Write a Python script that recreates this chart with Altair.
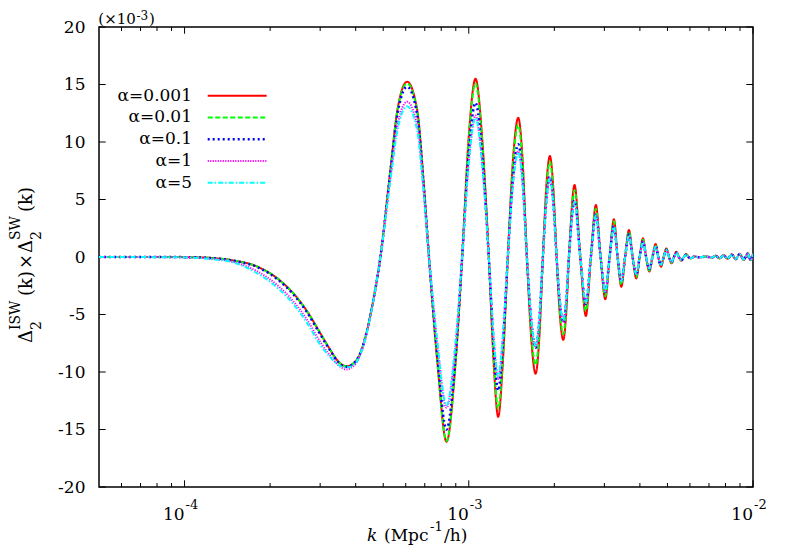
import altair as alt
import pandas as pd

# ---------------- data ----------------
k = [
    5.0e-5, 6.44e-5, 8.21e-5, 1.047e-4, 1.232e-4, 1.484e-4, 1.803e-4, 2.121e-4,
    2.414e-4, 2.704e-4, 3.005e-4, 3.258e-4, 3.477e-4, 3.709e-4, 3.992e-4, 4.258e-4,
    4.544e-4,
    4.888e-4, 5.301e-4, 5.610e-4, 6.068e-4, 6.582e-4, 6.927e-4, 7.243e-4,
    7.760e-4, 8.347e-4, 8.979e-4, 9.480e-4,
    1.000e-3, 1.056e-3, 1.117e-3, 1.176e-3,
    1.222e-3, 1.269e-3, 1.319e-3, 1.372e-3,
    1.431e-3, 1.493e-3, 1.546e-3, 1.601e-3,
    1.659e-3, 1.718e-3, 1.770e-3, 1.823e-3,
    1.875e-3, 1.929e-3, 1.981e-3, 2.037e-3,
    2.092e-3, 2.150e-3, 2.199e-3, 2.251e-3,
    2.356e-3, 2.468e-3, 2.582e-3, 2.689e-3, 2.800e-3, 2.909e-3, 3.022e-3, 3.129e-3,
    3.240e-3, 3.339e-3, 3.441e-3, 3.548e-3, 3.660e-3, 3.771e-3, 3.886e-3, 3.992e-3,
    4.100e-3, 4.207e-3, 4.318e-3, 4.428e-3, 4.545e-3, 4.641e-3, 4.745e-3, 4.850e-3,
    4.957e-3, 5.062e-3, 5.174e-3, 5.271e-3, 5.375e-3, 5.485e-3, 5.597e-3, 5.711e-3,
    5.828e-3, 5.928e-3, 6.035e-3,
    6.233e-3, 6.491e-3, 6.815e-3, 7.154e-3, 7.390e-3, 7.632e-3, 7.884e-3, 8.144e-3,
    8.414e-3, 8.691e-3, 8.978e-3, 9.275e-3, 9.579e-3, 9.815e-3, 1.0e-2,
]

alpha_0001 = [
    0, 0, 0, -0.02, -0.08, -0.3, -0.84, -1.86, -3.16, -4.75, -6.64, -8.09, -9.1, -9.5, -9.1, -7.6, -4.6,
    0, 7.6, 12.8, 15.24, 12.8, 6.7, 0, -9.25, -16.06, -9.25, 0, 10.5, 15.5, 10.0, 0,
    -9.0, -13.9, -9.0, 0, 8.5, 12.1, 8.5, 0, -7.1, -10.15, -7.1, 0, 6.2, 8.78, 6.2, 0,
    -5.1, -7.2, -5.1, 0,
    6.26, 0, -5.13, 0, 4.52, 0, -3.68, 0, 3.28, 0, -2.58, 0, 2.35, 0, -1.86, 0,
    1.62, 0, -1.27, 0, 1.13, 0, -0.84, 0, 0.75, 0, -0.55, 0, 0.46, 0, -0.32, 0, 0.26, 0, -0.12,
    0.05, -0.03, 0.04, -0.05, 0.12, -0.12, 0.18, -0.16, 0.24, -0.2, 0.28, -0.25, 0.32, -0.28, 0.3,
]
alpha_001 = [
    0, 0, 0, -0.02, -0.08, -0.3, -0.84, -1.86, -3.16, -4.75, -6.64, -8.09, -9.1, -9.5, -9.1, -7.6, -4.6,
    0, 7.55, 12.7, 15.1, 12.7, 6.6, 0, -9.2, -16.0, -9.2, 0, 10.2, 15.1, 9.7, 0,
    -8.5, -13.2, -8.5, 0, 8.1, 11.5, 8.1, 0, -6.6, -9.4, -6.6, 0, 5.8, 8.3, 5.8, 0,
    -4.7, -6.7, -4.7, 0,
    5.8, 0, -4.7, 0, 4.2, 0, -3.4, 0, 3.1, 0, -2.4, 0, 2.2, 0, -1.75, 0,
    1.5, 0, -1.2, 0, 1.05, 0, -0.8, 0, 0.7, 0, -0.52, 0, 0.43, 0, -0.3, 0, 0.25, 0, -0.12,
    0.05, -0.03, 0.04, -0.05, 0.11, -0.11, 0.17, -0.15, 0.22, -0.19, 0.26, -0.24, 0.3, -0.27, 0.28,
]
alpha_01 = [
    0, 0, 0, -0.02, -0.09, -0.32, -0.88, -1.93, -3.25, -4.85, -6.75, -8.15, -9.15, -9.55, -9.1, -7.6, -4.6,
    0, 7.4, 12.4, 14.8, 12.4, 6.5, 0, -8.7, -15.0, -8.7, 0, 9.1, 13.4, 8.6, 0,
    -7.5, -11.6, -7.5, 0, 6.9, 9.8, 6.9, 0, -5.5, -7.9, -5.5, 0, 4.9, 7.0, 4.9, 0,
    -4.0, -5.7, -4.0, 0,
    4.9, 0, -4.1, 0, 3.7, 0, -3.05, 0, 2.7, 0, -2.15, 0, 1.95, 0, -1.55, 0,
    1.35, 0, -1.05, 0, 0.95, 0, -0.7, 0, 0.63, 0, -0.46, 0, 0.38, 0, -0.27, 0, 0.22, 0, -0.1,
    0.04, -0.03, 0.04, -0.05, 0.1, -0.1, 0.15, -0.14, 0.2, -0.18, 0.24, -0.22, 0.28, -0.25, 0.26,
]
alpha_1 = [
    0, 0, -0.01, -0.04, -0.15, -0.43, -1.25, -2.45, -3.85, -5.5, -7.4, -8.6, -9.4, -9.78, -9.3, -7.7, -4.65,
    0, 6.9, 11.4, 13.5, 11.4, 5.9, 0, -7.6, -13.1, -7.6, 0, 8.3, 12.3, 7.9, 0,
    -6.9, -10.6, -6.9, 0, 6.5, 9.2, 6.5, 0, -5.5, -7.8, -5.5, 0, 4.8, 6.9, 4.8, 0,
    -3.9, -5.6, -3.9, 0,
    4.8, 0, -4.0, 0, 3.65, 0, -3.0, 0, 2.65, 0, -2.1, 0, 1.9, 0, -1.5, 0,
    1.3, 0, -1.0, 0, 0.9, 0, -0.68, 0, 0.6, 0, -0.45, 0, 0.37, 0, -0.26, 0, 0.21, 0, -0.1,
    0.04, -0.03, 0.04, -0.05, 0.1, -0.1, 0.15, -0.14, 0.2, -0.18, 0.24, -0.22, 0.28, -0.25, 0.26,
]
alpha_5 = [
    0, 0, -0.02, -0.05, -0.18, -0.47, -1.42, -2.67, -4.09, -5.77, -7.65, -8.72, -9.39, -9.62, -9.25, -7.7, -4.7,
    0, 6.7, 11.0, 13.1, 11.0, 5.8, 0, -7.5, -12.9, -7.5, 0, 8.2, 12.1, 7.8, 0,
    -6.7, -10.4, -6.7, 0, 6.4, 9.1, 6.4, 0, -5.4, -7.7, -5.4, 0, 4.8, 6.8, 4.8, 0,
    -3.9, -5.5, -3.9, 0,
    4.8, 0, -4.0, 0, 3.6, 0, -3.0, 0, 2.6, 0, -2.1, 0, 1.9, 0, -1.5, 0,
    1.3, 0, -1.0, 0, 0.9, 0, -0.68, 0, 0.6, 0, -0.45, 0, 0.37, 0, -0.26, 0, 0.21, 0, -0.1,
    0.04, -0.03, 0.04, -0.05, 0.1, -0.1, 0.15, -0.14, 0.2, -0.18, 0.24, -0.22, 0.28, -0.25, 0.26,
]

series_labels = ["α=0.001", "α=0.01", "α=0.1", "α=1", "α=5"]
series_values = [alpha_0001, alpha_001, alpha_01, alpha_1, alpha_5]

y_ticks = [-20, -15, -10, -5, 0, 5, 10, 15, 20]
x_major = [1e-4, 1e-3, 1e-2]
x_major_exp = ["-4", "-3", "-2"]
x_minor = [6e-5, 7e-5, 8e-5, 9e-5,
           2e-4, 3e-4, 4e-4, 5e-4, 6e-4, 7e-4, 8e-4, 9e-4,
           2e-3, 3e-3, 4e-3, 5e-3, 6e-3, 7e-3, 8e-3, 9e-3]

# ---------------- styles ----------------
FONT = "DejaVu Serif"
FS, FSS = 17, 13          # main text size, sub/superscript size
W, H = 654, 460
colors = ["#ff0000", "#00ff00", "#0000ff", "#ff00ff", "#00ffff"]
dashes = [[1, 0], [5, 2.5], [2, 3], [1.2, 1.3], [5, 2, 1.5, 2]]
widths = [2, 2, 2.5, 2, 2]

xscale = alt.Scale(type="log", domain=[5e-5, 1e-2], nice=False)
yscale = alt.Scale(domain=[-20, 20], nice=False, zero=False)
yaxis = alt.Axis(values=y_ticks, labelExpr="datum.value + ''", ticks=False, domain=False,
                 grid=False, labelFont=FONT, labelFontSize=FS, labelColor="black",
                 labelPadding=14, title=None, labelOverlap=False)

for s in series_values:
    assert len(s) == len(k), (len(s), len(k))

layers = []

# inward tick marks on all four sides
maj_df = pd.DataFrame({"k": x_major})
min_df = pd.DataFrame({"k": x_minor})
yt_df = pd.DataFrame({"v": y_ticks})
xenc = alt.X("k:Q", scale=xscale, axis=None)
for df, ln in [(maj_df, 6.7), (min_df, 4)]:
    layers.append(alt.Chart(df).mark_rule(color="black", strokeWidth=1).encode(
        x=xenc, y=alt.value(H), y2=alt.value(H - ln)))
    layers.append(alt.Chart(df).mark_rule(color="black", strokeWidth=1).encode(
        x=xenc, y=alt.value(0), y2=alt.value(ln)))
layers.append(alt.Chart(yt_df).mark_rule(color="black", strokeWidth=1).encode(
    y=alt.Y("v:Q", scale=yscale, axis=yaxis), x=alt.value(0), x2=alt.value(6.7)))
layers.append(alt.Chart(yt_df).mark_rule(color="black", strokeWidth=1).encode(
    y=alt.Y("v:Q", scale=yscale, axis=yaxis), x=alt.value(W), x2=alt.value(W - 6.7)))

# curves (red at the bottom, cyan on top)
for vals, col, dash, sw in zip(series_values, colors, dashes, widths):
    df = pd.DataFrame({"k": k, "v": vals})
    layers.append(alt.Chart(df).mark_line(color=col, strokeDash=dash, strokeWidth=sw,
                                          interpolate="monotone", clip=True).encode(
        x=xenc, y=alt.Y("v:Q", scale=yscale, axis=yaxis)))

# x tick labels 10^n
xl_df = pd.DataFrame({"k": x_major, "base": ["10"] * 3, "exp": x_major_exp})
layers.append(alt.Chart(xl_df).mark_text(align="right", baseline="alphabetic", font=FONT,
                                         fontSize=FS, color="black").encode(
    x=xenc, y=alt.value(492.5), text="base:N"))
layers.append(alt.Chart(xl_df).mark_text(align="left", baseline="alphabetic", font=FONT,
                                         fontSize=FSS, color="black", dx=1).encode(
    x=xenc, y=alt.value(482), text="exp:N"))


def label(txt, x, y, size=FS, align="left", angle=0, style="normal", baseline="alphabetic"):
    return alt.Chart(pd.DataFrame({"t": [txt]})).mark_text(
        align=align, baseline=baseline, font=FONT, fontSize=size, angle=angle,
        fontStyle=style, color="black").encode(
        x=alt.value(x), y=alt.value(y), text="t:N")


# legend
rows = [68.7, 90.4, 112.2, 133.9, 155.7]
for name, col, dash, sw, ry in zip(series_labels, colors, dashes, widths, rows):
    layers.append(label(name, 93, ry, align="right", baseline="middle"))
    layers.append(alt.Chart(pd.DataFrame({"s": [name]})).mark_rule(
        color=col, strokeDash=dash, strokeWidth=sw).encode(
        x=alt.value(108.7), x2=alt.value(167.7), y=alt.value(ry)))

# multiplier at top left
layers.append(label("(×10", -0.7, -3, size=15))
layers.append(label("-3", 37.5, -7, size=12))
layers.append(label(")", 50, -3, size=15))

# x-axis title
layers.append(label("k", 268, 514, style="italic"))
layers.append(label("(Mpc", 285, 514))
layers.append(label("-1", 331, 504, size=FSS))
layers.append(label("/h)", 345, 514))

# y-axis title (rotated, built from pieces)
yx, ysub, ysup = -67, -58, -79.5
layers.append(label("Δ", yx, 316, size=18, angle=270))
layers.append(label("2", ysub, 303, size=14, angle=270))
layers.append(label("ISW", ysup, 303, size=14, angle=270))
layers.append(label("(k)", yx, 269, size=18, angle=270))
layers.append(label("×", yx, 242, size=18, angle=270))
layers.append(label("Δ", yx, 226, size=18, angle=270))
layers.append(label("2", ysub, 213, size=14, angle=270))
layers.append(label("SW", ysup, 213, size=14, angle=270))
layers.append(label("(k)", yx, 185, size=18, angle=270))

chart = alt.layer(*layers).properties(
    width=W, height=H,
    autosize=alt.AutoSizeParams(type="none"),
    padding={"left": 91, "top": 19, "right": 29, "bottom": 58},
    background="white",
).configure_view(stroke="black", strokeWidth=1.5)

chart.save("out.html", embed_options={"renderer": "svg", "actions": False})
